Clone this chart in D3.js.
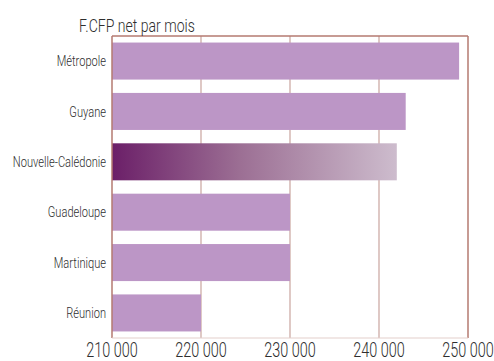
<!DOCTYPE html>
<html>
<head>
<meta charset="utf-8">
<script src="https://cdn.jsdelivr.net/npm/d3@7"></script>
<style>
  body { margin: 0; background: #fff; }
  text { font-family: "Roboto", "Liberation Sans", sans-serif; font-weight: 300; }
</style>
</head>
<body>
<div id="chart"></div>
<script>
const categories = ["Métropole", "Guyane", "Nouvelle-Calédonie", "Guadeloupe", "Martinique", "Réunion"];
const values = [249000, 243000, 242000, 230000, 230000, 220000];
const tickValues = [210000, 220000, 230000, 240000, 250000];
const unitLabel = "F.CFP net par mois";

const width = 494, height = 361;
const margin = { top: 36, right: 26, bottom: 23, left: 112 };
const squeeze = 0.74; // condensed look of the original typeface

const svg = d3.select("#chart")
    .append("svg")
    .attr("width", width)
    .attr("height", height);

const x = d3.scaleLinear()
    .domain([210000, 250000])
    .range([margin.left, width - margin.right]);

const y = d3.scaleBand()
    .domain(categories)
    .range([margin.top, height - margin.bottom])
    .paddingInner(0.265)
    .paddingOuter(0.13);

// gradient for the highlighted bar
const grad = svg.append("defs").append("linearGradient")
    .attr("id", "ncGrad")
    .attr("x1", "0%").attr("x2", "100%")
    .attr("y1", "0%").attr("y2", "0%");
grad.append("stop").attr("offset", "0%").attr("stop-color", "#6b1f68");
grad.append("stop").attr("offset", "45%").attr("stop-color", "#9c6f94");
grad.append("stop").attr("offset", "100%").attr("stop-color", "#cdbccd");

// vertical gridlines
svg.append("g")
    .selectAll("line")
    .data(tickValues.slice(1, -1))
    .enter().append("line")
    .attr("x1", d => x(d)).attr("x2", d => x(d))
    .attr("y1", margin.top).attr("y2", height - margin.bottom)
    .attr("stroke", "#c9a49e")
    .attr("stroke-width", 1.2);

// bars
svg.append("g")
    .selectAll("rect")
    .data(categories)
    .enter().append("rect")
    .attr("x", x(210000))
    .attr("y", d => y(d))
    .attr("width", (d, i) => x(values[i]) - x(210000))
    .attr("height", y.bandwidth())
    .attr("fill", d => d === "Nouvelle-Calédonie" ? "url(#ncGrad)" : "#bc96c6");

// frame
const frame = svg.append("g");
frame.append("line")
    .attr("x1", x(210000)).attr("x2", x(250000))
    .attr("y1", margin.top).attr("y2", margin.top)
    .attr("stroke", "#b47a70").attr("stroke-width", 1.5);
frame.append("line")
    .attr("x1", x(210000)).attr("x2", x(210000))
    .attr("y1", margin.top).attr("y2", height - margin.bottom)
    .attr("stroke", "#b47a70").attr("stroke-width", 1.5);
frame.append("line")
    .attr("x1", x(250000)).attr("x2", x(250000))
    .attr("y1", margin.top).attr("y2", height - margin.bottom)
    .attr("stroke", "#b47a70").attr("stroke-width", 1.5);
frame.append("line")
    .attr("x1", x(210000)).attr("x2", x(250000))
    .attr("y1", height - margin.bottom).attr("y2", height - margin.bottom)
    .attr("stroke", "#e3cfcb").attr("stroke-width", 1);

// category labels
svg.append("g")
    .selectAll("text")
    .data(categories)
    .enter().append("text")
    .attr("transform", d => `translate(${margin.left - 6},${y(d) + y.bandwidth() / 2}) scale(${squeeze},1)`)
    .attr("dy", "0.35em")
    .attr("text-anchor", "end")
    .attr("fill", "#2e2e2e")
    .style("font-size", "15px")
    .text(d => d);

// x tick labels
svg.append("g")
    .selectAll("text")
    .data(tickValues)
    .enter().append("text")
    .attr("transform", d => `translate(${x(d)},356.5) scale(${squeeze},1)`)
    .attr("text-anchor", "middle")
    .attr("fill", "#2e2e2e")
    .style("font-size", "19.5px")
    .text(d => d3.format(",")(d).replace(",", " "));

// unit label
svg.append("text")
    .attr("transform", `translate(79,31.5) scale(${squeeze},1)`)
    .attr("fill", "#2e2e2e")
    .style("font-size", "19px")
    .text(unitLabel);
</script>
</body>
</html>
